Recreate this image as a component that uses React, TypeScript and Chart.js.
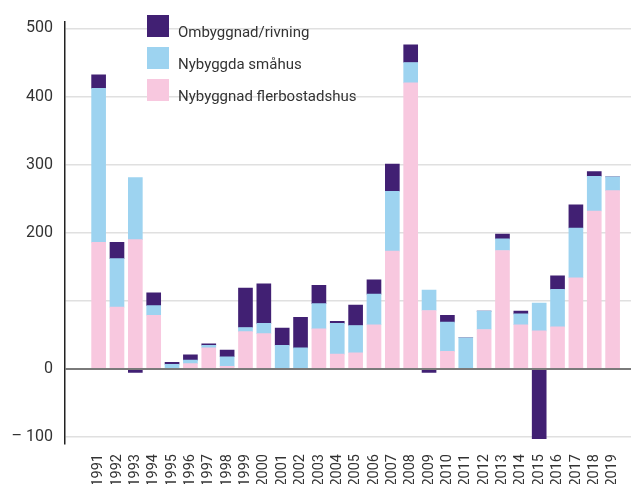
import React, { useEffect, useRef } from "react";
import { Chart, registerables } from "chart.js";

Chart.register(...registerables);

const years = [1991,1992,1993,1994,1995,1996,1997,1998,1999,2000,2001,2002,2003,2004,2005,2006,2007,2008,2009,2010,2011,2012,2013,2014,2015,2016,2017,2018,2019];
const flerbostadshus = [186,91,190,79,1,8,31,4,55,52,0,0,59,22,24,65,173,420,86,26,0,58,174,65,56,62,134,232,262];
const smahus = [226,71,91,14,6,5,4,14,6,15,35,31,37,45,40,45,88,30,30,43,46,27,17,16,41,55,73,51,20];
const ombyggnad = [20,24,-5,19,3,8,2,10,58,58,25,45,27,3,30,21,40,26,-5,10,0,0,7,4,-102,20,34,7,0];
const yTicks = [-100,0,100,200,300,400,500];
const seriesNames = ["Nybyggnad flerbostadshus", "Nybyggda småhus", "Ombyggnad/rivning"];
const colors = ["#F8C8DF", "#9DD3F0", "#412073"];

export default function App() {
  const ref = useRef<HTMLCanvasElement | null>(null);
  useEffect(() => {
    if (!ref.current) return;
    const pts = (arr: number[]) => arr.map((v, i) => ({ x: years[i], y: v }));
    const legendPlugin = {
      id: "customLegend",
      afterDraw(chart: any) {
        const ctx = chart.ctx;
        ctx.save();
        const order = [2, 1, 0];
        order.forEach((si, row) => {
          const top = 15 + row * 32;
          ctx.fillStyle = colors[si];
          ctx.fillRect(147, top, 22, 22);
          ctx.fillStyle = "#333";
          ctx.font = "15px Roboto";
          ctx.textBaseline = "alphabetic";
          ctx.textAlign = "left";
          ctx.fillText(seriesNames[si], 178, top + 21.5);
        });
        ctx.restore();
      },
    };
    const zeroLine = {
      id: "zeroLine",
      afterDatasetsDraw(chart: any) {
        const ctx = chart.ctx;
        const y = chart.scales.y.getPixelForValue(0);
        const a = chart.chartArea;
        ctx.save();
        ctx.strokeStyle = "#7a7a7a";
        ctx.lineWidth = 2;
        ctx.beginPath();
        ctx.moveTo(a.left, y);
        ctx.lineTo(a.right, y);
        ctx.stroke();
        ctx.restore();
      },
    };
    const chart = new Chart(ref.current, {
      type: "bar",
      data: {
        datasets: [0, 1, 2].map((i) => ({
          label: seriesNames[i],
          data: pts([flerbostadshus, smahus, ombyggnad][i]),
          backgroundColor: colors[i],
          borderWidth: 0,
          barThickness: 14,
        })),
      },
      options: {
        animation: false,
        responsive: true,
        maintainAspectRatio: false,
        layout: { padding: { top: 7, right: 11, left: 0, bottom: 0 } },
        plugins: { legend: { display: false }, tooltip: { enabled: false } },
        scales: {
          x: {
            type: "linear",
            stacked: true,
            min: 1989.7,
            max: 2019.47,
            grid: { display: false },
            border: { display: false },
            afterBuildTicks: (axis: any) => {
              axis.ticks = years.map((v) => ({ value: v }));
            },
            afterFit: (axis: any) => {
              axis.height = 40;
            },
            ticks: {
              autoSkip: false,
              minRotation: 90,
              maxRotation: 90,
              padding: 2,
              color: "#333",
              font: { family: "Roboto", size: 14.5 },
              callback: (v: any) => String(v),
            },
          },
          y: {
            stacked: true,
            min: -110,
            max: 510,
            afterBuildTicks: (axis: any) => {
              axis.ticks = yTicks.map((v) => ({ value: v }));
            },
            afterFit: (axis: any) => {
              axis.width = 65;
            },
            grid: { color: "#e0e0e0", lineWidth: 1.5, drawTicks: false },
            border: { display: true, color: "#222", width: 1.5 },
            ticks: {
              padding: 12,
              color: "#333",
              font: { family: "Roboto", size: 16 },
              callback: (v: any) => (v === 100 ? "" : v === -100 ? "\u2013 100" : String(v)),
            },
          },
        },
      },
      plugins: [zeroLine, legendPlugin],
    } as any);
    return () => chart.destroy();
  }, []);
  return (
    <div style={{ position: "fixed", left: 0, top: 0, width: 642, height: 484 }}>
      <canvas ref={ref} />
    </div>
  );
}
